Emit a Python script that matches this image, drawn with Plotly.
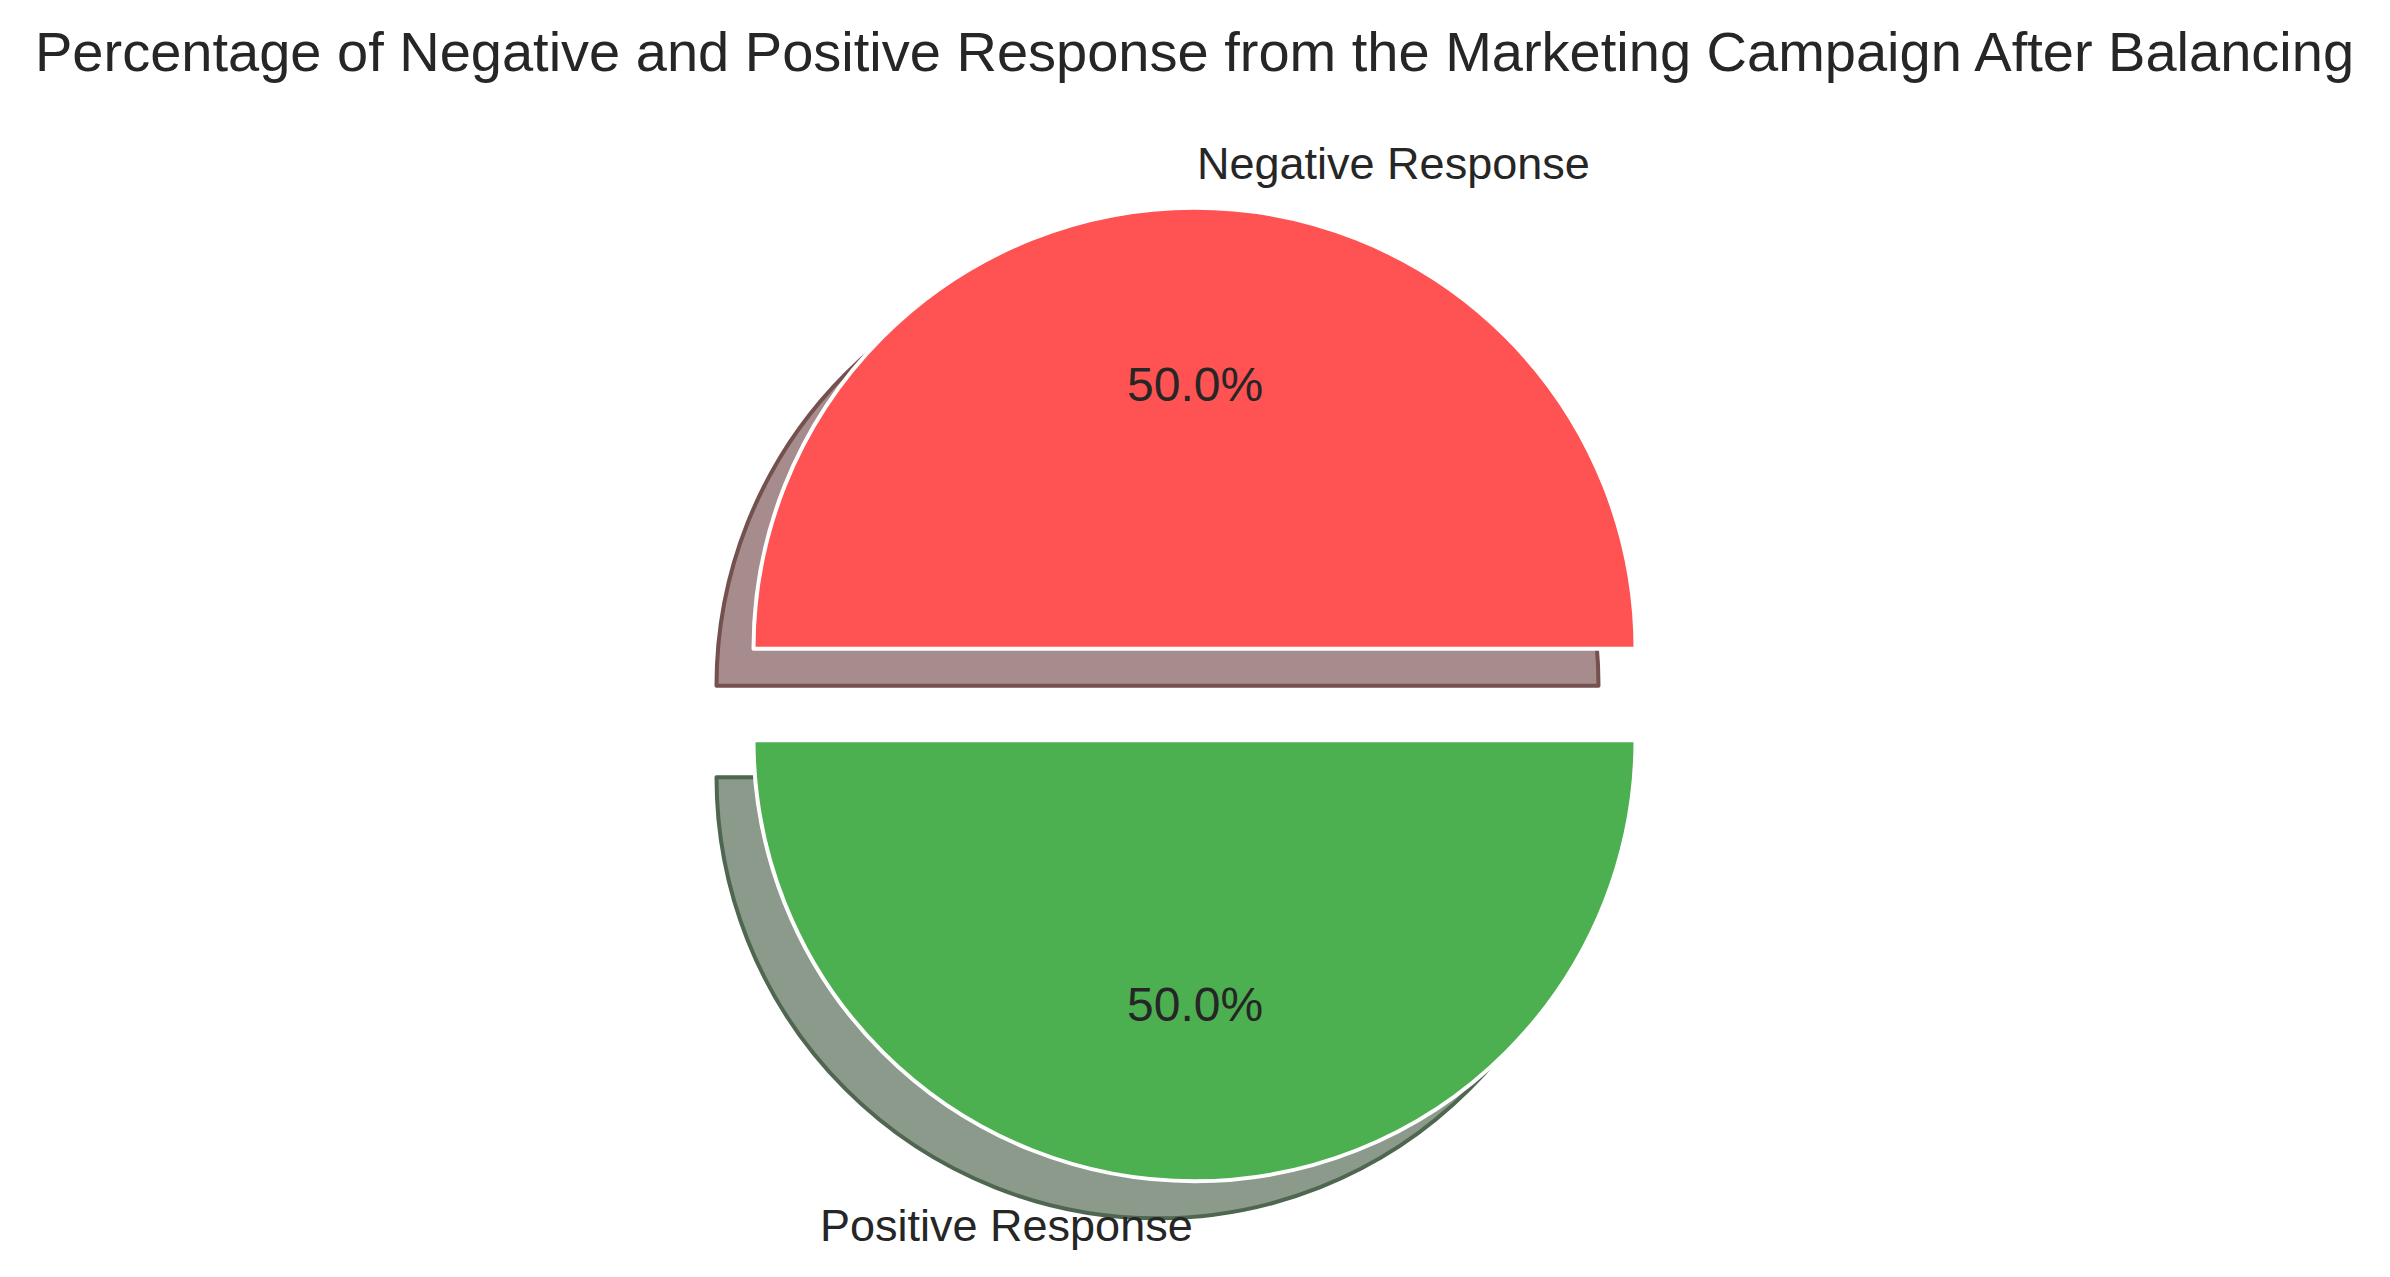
import plotly.graph_objects as go

# ---- data ----
labels = ["Negative Response", "Positive Response"]
values = [50, 50]
explode = [0.104, 0.104]
colors = ["#FF5252", "#4CAF50"]
shadow_colors = ["#A68C8C", "#8B9A8B"]
shadow_edges = ["#74504F", "#4F6650"]
title_text = "Percentage of Negative and Positive Response from the Marketing Campaign After Balancing"

# ---- geometry (pixels) ----
W, H = 2390, 1277
cx, cy = 1194.5, 694.5   # pie centre
R = 441.0                # pie radius
shadow_dx, shadow_dy = -37, 37
FONT = "Liberation Sans, Arial, Helvetica, sans-serif"
TXT = "#262626"


def domain(cxp, cyp):
    side = 2 * R * (1 + max(explode))
    return dict(
        x=[(cxp - side / 2) / W, (cxp + side / 2) / W],
        y=[1 - (cyp + side / 2) / H, 1 - (cyp - side / 2) / H],
    )


fig = go.Figure()

# shadow pie
fig.add_trace(go.Pie(
    labels=labels, values=values, pull=explode, sort=False,
    direction="counterclockwise", rotation=-90,
    domain=domain(cx + shadow_dx, cy + shadow_dy),
    marker=dict(colors=shadow_colors, line=dict(color=shadow_edges, width=4)),
    textinfo="none", hoverinfo="skip", showlegend=False,
))

# main pie
fig.add_trace(go.Pie(
    labels=labels, values=values, pull=explode, sort=False,
    direction="counterclockwise", rotation=-90,
    domain=domain(cx, cy),
    marker=dict(colors=colors, line=dict(color="white", width=4)),
    textinfo="none", showlegend=False,
))

total = sum(values)
annotations = []
# wedge centres after explode: first wedge up, second wedge down
signs = [-1, 1]
for lab, v, e, s in zip(labels, values, explode, signs):
    wy = cy + s * e * R
    pct_y = wy + s * 0.6 * R
    lab_y = wy + s * 1.1 * R
    annotations.append(dict(
        x=cx / W, y=1 - pct_y / H, xref="paper", yref="paper",
        text=f"{v / total * 100:.1f}%", showarrow=False,
        xanchor="center", yanchor="middle",
        font=dict(family=FONT, size=48, color=TXT),
    ))
    annotations.append(dict(
        x=cx / W, y=1 - lab_y / H, xref="paper", yref="paper",
        text=lab, showarrow=False,
        xanchor="left" if s < 0 else "right", yanchor="middle",
        font=dict(family=FONT, size=45, color=TXT),
    ))

annotations.append(dict(
    x=cx / W, y=1 - 52 / H, xref="paper", yref="paper",
    text=title_text, showarrow=False, xanchor="center", yanchor="middle",
    font=dict(family=FONT, size=56, color=TXT),
))

fig.update_layout(
    width=W, height=H,
    margin=dict(l=0, r=0, t=0, b=0),
    paper_bgcolor="white", plot_bgcolor="white",
    annotations=annotations,
    showlegend=False,
)

fig.write_html(
    "out.html",
    config={"displayModeBar": False},
    post_script="document.body.style.margin='0';document.body.style.overflow='hidden';",
)
